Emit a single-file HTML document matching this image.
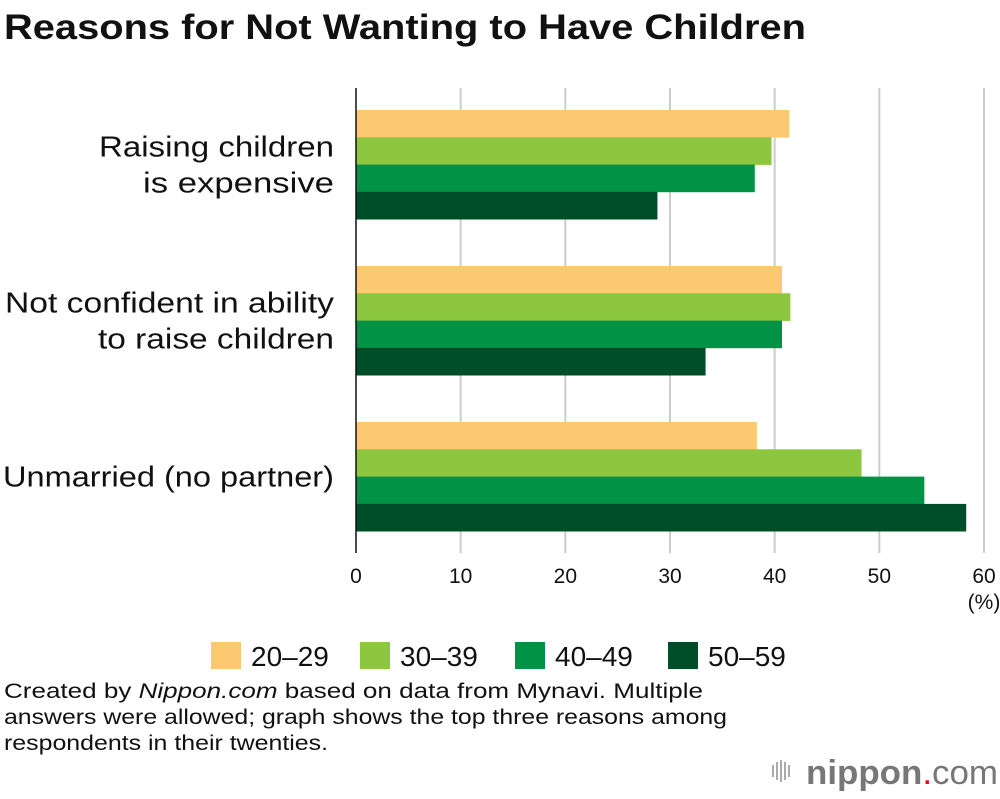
<!DOCTYPE html>
<html><head><meta charset="utf-8"><style>
body{margin:0;width:1000px;height:794px;background:#fff;font-family:"Liberation Sans",sans-serif;overflow:hidden}
</style></head><body>
<svg width="1000" height="794" xmlns="http://www.w3.org/2000/svg" font-family="Liberation Sans, sans-serif">
<text x="4" y="39" font-size="35" font-weight="bold" fill="#111" textLength="802" lengthAdjust="spacingAndGlyphs">Reasons for Not Wanting to Have Children</text>
<g id="grid"></g><g id="bars"></g><g id="cats"></g><g id="ticks"></g>
<line x1="356" y1="88" x2="356" y2="553" stroke="#111" stroke-width="1.5"/>
<text x="984" y="609" font-size="21" text-anchor="middle" fill="#111">(%)</text>
<g id="legend"></g>
<g font-size="21" fill="#111">
<text x="4" y="698" textLength="699" lengthAdjust="spacingAndGlyphs">Created by <tspan font-style="italic">Nippon.com</tspan> based on data from Mynavi. Multiple</text>
<text x="4" y="724" textLength="723" lengthAdjust="spacingAndGlyphs">answers were allowed; graph shows the top three reasons among</text>
<text x="4" y="750" textLength="324" lengthAdjust="spacingAndGlyphs">respondents in their twenties.</text></g>
<g>
<g fill="#aaa"><rect x="772" y="765" width="2" height="12"/><rect x="776" y="762" width="2" height="18"/><rect x="780" y="760" width="2" height="22"/><rect x="784" y="762" width="2" height="18"/><rect x="788" y="765" width="2" height="12"/></g>
<text x="806" y="784" font-size="34" fill="#777" textLength="192" lengthAdjust="spacingAndGlyphs"><tspan font-weight="bold">nippon</tspan><tspan fill="#e60012">.</tspan><tspan>com</tspan></text></g>
</svg>
<script>
const categories=[["Raising children","is expensive"],["Not confident in ability","to raise children"],["Unmarried (no partner)"]];
const seriesNames=["20–29","30–39","40–49","50–59"];
const s2029=[41.4,40.7,38.3];
const s3039=[39.7,41.5,48.3];
const s4049=[38.1,40.7,54.3];
const s5059=[28.8,33.4,58.3];
const ticks=[0,10,20,30,40,50,60];
const series=[s2029,s3039,s4049,s5059];
const colors=["#fdc970","#8dc63f","#009245","#004d2a"];
const labelWidths=[[235,191],[329,236],[331]];
const NS="http://www.w3.org/2000/svg";
const x=v=>356+v*(984-356)/60;
const groupTop=i=>110+i*156, barH=27.3;
function mk(t,a,p){const e=document.createElementNS(NS,t);for(const k in a)e.setAttribute(k,a[k]);document.getElementById(p).appendChild(e);return e;}
ticks.forEach(t=>{
 if(t>0){const g=mk('line',{x1:x(t),x2:x(t),y1:88,y2:553,stroke:'#ccc','stroke-width':2},'grid');
 
 }
 const l=mk('text',{x:x(t),y:583,'font-size':21,'text-anchor':'middle',fill:'#111'},'ticks');l.textContent=t;
 
 
});
categories.forEach((c,i)=>{
 series.forEach((s,j)=>{
  const r=mk('rect',{x:356,y:groupTop(i)+j*barH,width:x(s[i])-356,height:barH+0.3,fill:colors[j]},'bars');
  
  
 });
 const cy=groupTop(i)+2*barH;
 c.forEach((line,k)=>{
  const t=mk('text',{x:334,y:cy+10+(k-(c.length-1)/2)*36,'font-size':29,'text-anchor':'end',fill:'#111'},'cats');
  t.textContent=line;
  const w=(labelWidths[i]&&labelWidths[i][k])||line.length*13.9;
  t.setAttribute('textLength',w);
  t.setAttribute('lengthAdjust','spacingAndGlyphs');
  
  
 });
});
const lx=[211,360,515,668];
seriesNames.forEach((n,j)=>{
 const r=mk('rect',{x:lx[j],y:642,width:30,height:27,fill:colors[j]},'legend');
 
 
 const t=mk('text',{x:lx[j]+40,y:666,'font-size':28,fill:'#111'},'legend');t.textContent=n;
 
 
});
</script>
</body></html>
